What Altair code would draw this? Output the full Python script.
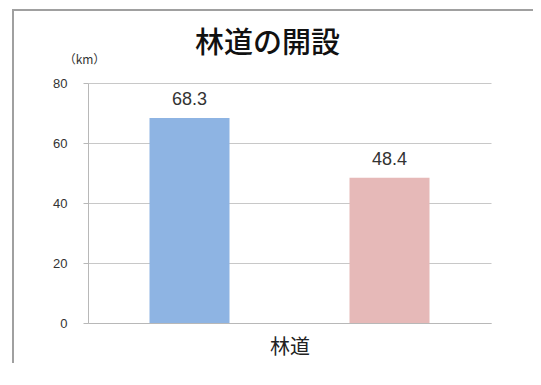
import altair as alt
import pandas as pd

series = ["A", "B"]
values = [68.3, 48.4]
labels = ["68.3", "48.4"]
colors = ["#8EB4E3", "#E6B9B8"]
y_ticks = [0, 20, 40, 60, 80]

df = pd.DataFrame({"series": series, "value": values, "label": labels})

x_scale = alt.Scale(domain=series, paddingInner=0.6, paddingOuter=0.3075)

x_enc = alt.X(
    "series:N",
    scale=x_scale,
    axis=alt.Axis(
        title="林道", labels=False, ticks=False, domainColor="#b8b8b8",
        titleFontSize=20, titleFont="Noto Sans CJK JP", titleFontWeight="normal",
        titleColor="#222222", titlePadding=14,
    ),
)

bars = alt.Chart(df).mark_bar().encode(
    x=x_enc,
    y=alt.Y(
        "value:Q",
        scale=alt.Scale(domain=[0, 80], nice=False),
        axis=alt.Axis(
            values=y_ticks, title="（km）", titleAngle=0, titleX=-4, titleY=-24,
            titleAlign="center", titleBaseline="middle", titleFontSize=12,
            titleFontWeight="normal", titleFont="Noto Sans CJK JP", titleColor="#333333",
            labelFontSize=13, labelColor="#333333", labelFont="Liberation Sans",
            labelPadding=16, tickSize=5, tickColor="#b8b8b8", domainColor="#b8b8b8",
            gridColor="#c8c8c8",
        ),
    ),
    color=alt.Color("series:N", scale=alt.Scale(domain=series, range=colors), legend=None),
)

text = alt.Chart(df).mark_text(
    dy=-18, fontSize=18, color="#333333", font="Liberation Sans", baseline="middle"
).encode(x=alt.X("series:N", scale=x_scale), y="value:Q", text="label:N")

one = pd.DataFrame({"a": [0]})
frame_top = alt.Chart(one).mark_rule(stroke="#a0a0a0", strokeWidth=2, clip=False).encode(
    x=alt.value(-76), x2=alt.value(445), y=alt.value(-73))
frame_left = alt.Chart(one).mark_rule(stroke="#a0a0a0", strokeWidth=2, clip=False).encode(
    x=alt.value(-75), y=alt.value(-73), y2=alt.value(280))

chart = alt.layer(frame_top, frame_left, bars, text).properties(
    width=403, height=240,
    autosize=alt.AutoSizeParams(type="none"),
    padding={"left": 80, "top": 75, "right": 42, "bottom": 48},
    title=alt.TitleParams(
        "林道の開設", fontSize=29, font="Noto Sans CJK JP", fontWeight=500,
        color="#111111", anchor="middle", dx=-22, offset=0, dy=50,
    ),
).configure_view(stroke=None)

chart.save("out.html", embed_options={"renderer": "svg", "actions": False})
